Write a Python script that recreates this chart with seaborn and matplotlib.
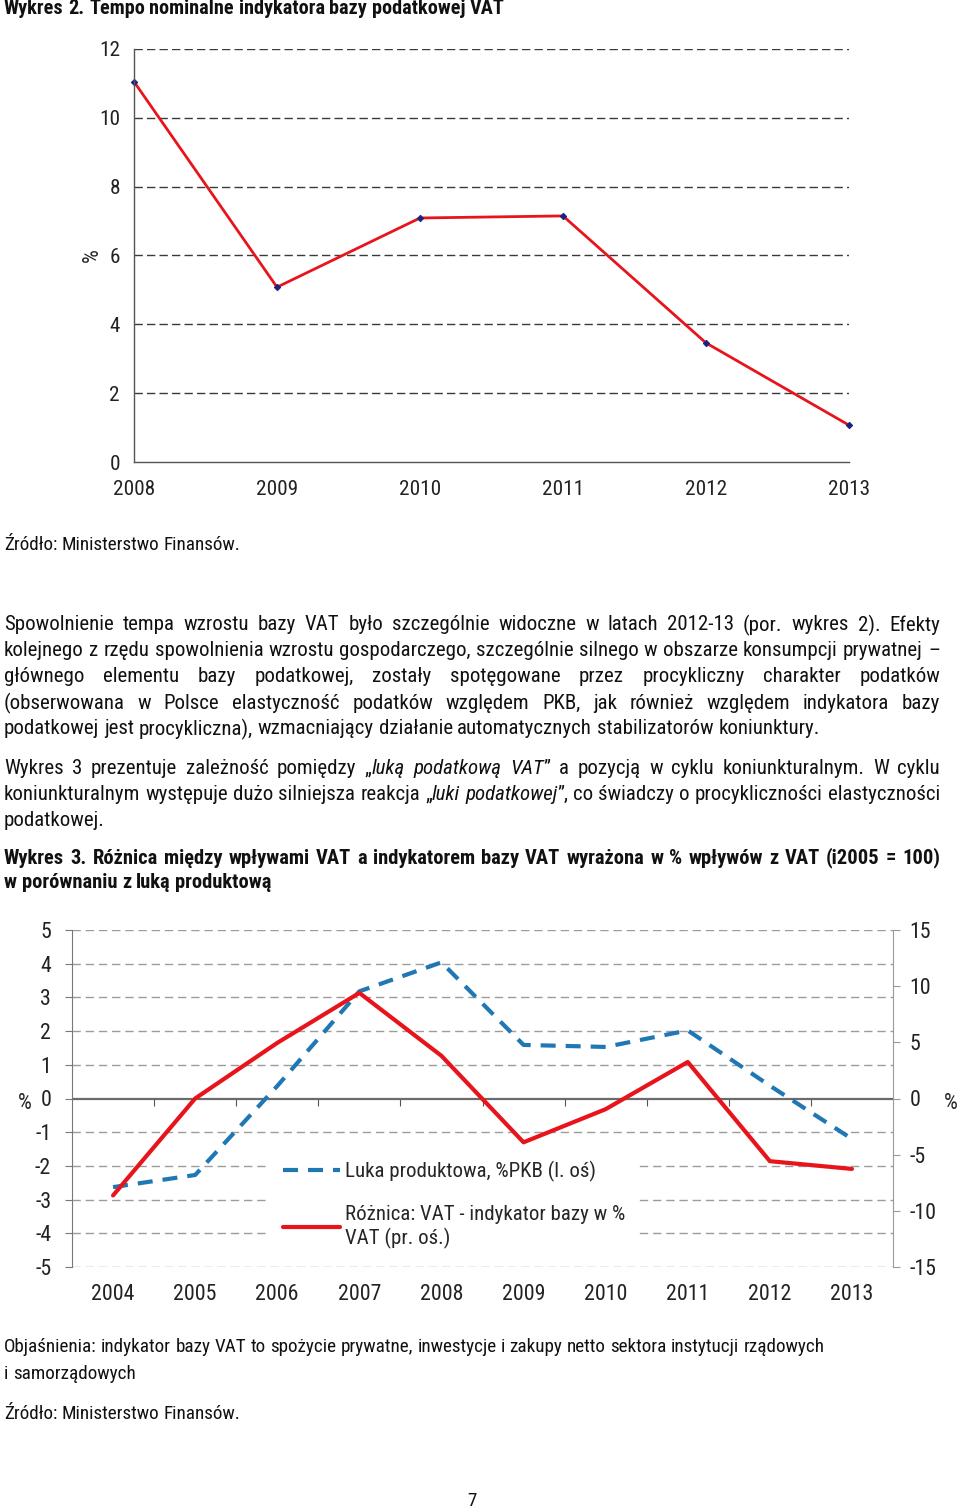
import seaborn as sns
import matplotlib as mpl
import matplotlib.pyplot as plt
from matplotlib import font_manager
from matplotlib.lines import Line2D

# Wykres 2 - tempo nominalne indykatora bazy VAT (%)
years_base = [2008, 2009, 2010, 2011, 2012, 2013]
base_growth = [11.05, 5.08, 7.09, 7.15, 3.46, 1.07]

# Wykres 3 - luka produktowa (l. os) i roznica VAT - indykator (pr. os)
years_gap = [2004, 2005, 2006, 2007, 2008, 2009, 2010, 2011, 2012, 2013]
output_gap = [-2.63, -2.27, 0.37, 3.18, 4.04, 1.59, 1.53, 2.02, 0.38, -1.20]
vat_diff = [-8.63, 0.0, 4.95, 9.40, 3.80, -3.90, -0.95, 3.25, -5.58, -6.27]

left_ticks = [-5, -4, -3, -2, -1, 0, 1, 2, 3, 4, 5]
right_ticks = [-15, -10, -5, 0, 5, 10, 15]

W, H = 960, 1511
RED = '#e8141c'
BLUE = '#1f77b4'
REF_LINE = 'podatkowej jest procykliczna), wzmacniający działanie automatycznych stabilizatorów koniunktury.'


def pick_font():
    fonts = font_manager.fontManager.ttflist
    names = {f.name for f in fonts}
    for fam in ['Liberation Sans Narrow', 'Arial Narrow', 'Roboto Condensed', 'Noto Sans Condensed']:
        if fam in names:
            return fam, 'normal'
    for fam in ['DejaVu Sans', 'Noto Sans', 'Roboto', 'Open Sans']:
        if any(f.name == fam and f.stretch == 'condensed' and f.weight in (400, 'normal', 'regular')
               for f in fonts):
            return fam, 'condensed'
    return 'Liberation Sans', 'normal'


def main():
    sns.set_style('white')
    fam, stretch = pick_font()
    mpl.rcParams['font.family'] = [fam, 'Liberation Sans', 'DejaVu Sans']
    mpl.rcParams['font.stretch'] = stretch
    mpl.rcParams['axes.unicode_minus'] = False
    mpl.rcParams['figure.dpi'] = 100

    fig = plt.figure(figsize=(W / 100, H / 100), dpi=100)
    fig.patch.set_facecolor('white')
    renderer = fig.canvas.get_renderer()

    probe = fig.text(0, 0, REF_LINE, fontsize=10)
    body = 10 * 812 / probe.get_window_extent(renderer).width
    probe.remove()

    plot_base(fig, body)
    plot_gap(fig, body)
    write_text(fig, renderer, body)

    fig.savefig('out.png', dpi=100, facecolor='white')


def plot_base(fig, body):
    ax = fig.add_axes([134 / W, 1 - 462 / H, 715 / W, 413 / H])
    sns.lineplot(x=years_base, y=base_growth, ax=ax, color=RED, linewidth=2.0,
                 marker='D', markersize=3.2, markerfacecolor='#1a237e',
                 markeredgecolor='#1a237e', clip_on=False)
    ax.set_xlim(2008, 2013)
    ax.set_ylim(0, 12)
    ax.set_yticks(range(0, 13, 2))
    ax.set_xticks(years_base)
    for v in range(2, 13, 2):
        ax.axhline(v, color='#3a3a3a', linewidth=1.0, dashes=(6, 3), zorder=0)
    for s in ['top', 'right']:
        ax.spines[s].set_visible(False)
    for s in ['left', 'bottom']:
        ax.spines[s].set_color('#555555')
        ax.spines[s].set_linewidth(1.0)
    ax.tick_params(axis='both', direction='out', length=5, width=1, color='#555555',
                   labelsize=body * 1.02, labelcolor='#222222')
    ax.tick_params(axis='y', pad=5)
    ax.tick_params(axis='x', pad=8)
    ax.set_xlabel('')
    ax.set_ylabel('%', fontsize=body * 1.05)
    ax.yaxis.set_label_coords(-0.043, 0.5)
    ax.grid(False)


def plot_gap(fig, body):
    ax = fig.add_axes([72 / W, 1 - 1267 / H, 821 / W, 337 / H])
    ax2 = ax.twinx()

    sns.lineplot(x=years_gap, y=output_gap, ax=ax, color=BLUE, linewidth=3.0,
                 linestyle='--', zorder=3)
    ax.lines[-1].set_dashes([3.6, 2.4])
    sns.lineplot(x=years_gap, y=vat_diff, ax=ax2, color=RED, linewidth=3.0, zorder=3)

    ax.set_xlim(2003.5, 2013.5)
    ax.set_ylim(-5, 5)
    ax2.set_ylim(-15, 15)
    ax.set_yticks(left_ticks)
    ax2.set_yticks(right_ticks)
    ax.set_xticks(years_gap)

    for v in left_ticks:
        if v == 0:
            ax.axhline(0, color='#6b6b6b', linewidth=1.6, zorder=1)
        else:
            ax.axhline(v, color='#9c9c9c', linewidth=1.0, dashes=(6, 3.5), zorder=0)

    for a in (ax, ax2):
        for s in ['top', 'bottom']:
            a.spines[s].set_visible(False)
        a.spines['left'].set_visible(a is ax)
        a.spines['right'].set_visible(a is ax2)
        a.set_xlabel('')
        a.set_ylabel('')
        a.grid(False)
    ax.spines['left'].set_color('#777777')
    ax2.spines['right'].set_color('#9a9a9a')

    size = body * 1.05
    ax.tick_params(axis='y', direction='out', length=5, color='#777777',
                   labelsize=size, labelcolor='#222222', pad=10)
    ax2.tick_params(axis='y', direction='out', length=5, color='#9a9a9a',
                    labelsize=size, labelcolor='#222222', pad=7)
    ax.tick_params(axis='x', length=0, labelsize=size, labelcolor='#222222', pad=12)

    # category ticks sitting on the zero line
    sec = ax.secondary_xaxis(0.5)
    sec.xaxis.set_ticks_position('bottom')
    sec.set_xticks([y + 0.5 for y in years_gap[:-1]], labels=[''] * 9)
    sec.tick_params(axis='x', which='both', direction='out', length=5, color='#555555',
                    labelbottom=False, labeltop=False)
    for s in sec.spines.values():
        s.set_visible(False)

    ax.text(-0.057, 0.485, '%', transform=ax.transAxes, fontsize=size, ha='center', va='center')
    ax2.text(1.07, 0.485, '%', transform=ax2.transAxes, fontsize=size, ha='center', va='center')

    handles = [
        Line2D([], [], color=BLUE, linewidth=3.0, dashes=[3.6, 2.4]),
        Line2D([], [], color=RED, linewidth=3.0),
    ]
    labels = ['Luka produktowa, %PKB (l. oś)', 'Różnica: VAT - indykator bazy w %\nVAT (pr. oś.)']
    leg = ax2.legend(handles, labels, loc='upper left', bbox_to_anchor=(0.229, 0.383),
                     frameon=True, fancybox=False, fontsize=body, handlelength=2.75,
                     handletextpad=0.2, labelspacing=1.12, borderpad=0.6)
    leg.get_frame().set_facecolor('white')
    leg.get_frame().set_edgecolor('white')
    leg.get_frame().set_alpha(1.0)
    leg.set_zorder(10)


def put_line(fig, renderer, y, segments, size, justify=False, x0=4, x1=940):
    words = []
    for text, style in segments:
        parts = text.split(' ')
        for i, p in enumerate(parts):
            if i > 0 or not words:
                words.append([])
            if p:
                words[-1].append((p, style))
    words = [w for w in words if w]

    def make(s, style):
        return fig.text(0, 1 - y / H, s, fontsize=size, va='center', ha='left',
                        fontweight='bold' if 'b' in style else 'normal',
                        fontstyle='italic' if 'i' in style else 'normal',
                        color='#111111')

    probe_a = make('a a', words[0][0][1])
    probe_b = make('aa', words[0][0][1])
    space = (probe_a.get_window_extent(renderer).width
             - probe_b.get_window_extent(renderer).width)
    probe_a.remove()
    probe_b.remove()

    placed = []
    total = 0
    for w in words:
        pieces = []
        for p, style in w:
            t = make(p, style)
            pw = t.get_window_extent(renderer).width
            pieces.append((t, pw))
        ww = sum(pw for _, pw in pieces)
        placed.append((pieces, ww))
        total += ww

    gap = space
    if justify and len(placed) > 1:
        gap = (x1 - x0 - total) / (len(placed) - 1)

    x = x0
    for pieces, ww in placed:
        px = x
        for t, pw in pieces:
            t.set_x(px / W)
            px += pw
        x += ww + gap


def write_text(fig, renderer, body):
    n = ''
    note = body * 0.915
    put_line(fig, renderer, 9, [('Wykres 2. Tempo nominalne indykatora bazy podatkowej VAT', 'b')], body * 0.97)
    put_line(fig, renderer, 545, [('Źródło: Ministerstwo Finansów.', n)], note)

    put_line(fig, renderer, 625, [('Spowolnienie tempa wzrostu bazy VAT było szczególnie widoczne w latach 2012-13 (por. wykres 2). Efekty', n)], body, True)
    put_line(fig, renderer, 651, [('kolejnego z rzędu spowolnienia wzrostu gospodarczego, szczególnie silnego w obszarze konsumpcji prywatnej –', n)], body, True)
    put_line(fig, renderer, 677, [('głównego elementu bazy podatkowej, zostały spotęgowane przez procykliczny charakter podatków', n)], body, True)
    put_line(fig, renderer, 703, [('(obserwowana w Polsce elastyczność podatków względem PKB, jak również względem indykatora bazy', n)], body, True)
    put_line(fig, renderer, 729, [(REF_LINE, n)], body)

    put_line(fig, renderer, 768, [('Wykres 3 prezentuje zależność pomiędzy „', n), ('luką podatkową VAT', 'i'),
                                  ('” a pozycją w cyklu koniunkturalnym. W cyklu', n)], body, True)
    put_line(fig, renderer, 794, [('koniunkturalnym występuje dużo silniejsza reakcja „', n), ('luki podatkowej', 'i'),
                                  ('”, co świadczy o procykliczności elastyczności', n)], body, True)
    put_line(fig, renderer, 820, [('podatkowej.', n)], body)

    put_line(fig, renderer, 858, [('Wykres 3. Różnica między wpływami VAT a indykatorem bazy VAT wyrażona w % wpływów z VAT (i2005 = 100)', 'b')], body * 0.98, True)
    put_line(fig, renderer, 883, [('w porównaniu z luką produktową', 'b')], body * 0.98)

    put_line(fig, renderer, 1347, [('Objaśnienia: indykator bazy VAT to spożycie prywatne, inwestycje i zakupy netto sektora instytucji rządowych', n)], note)
    put_line(fig, renderer, 1374, [('i samorządowych', n)], note)
    put_line(fig, renderer, 1414, [('Źródło: Ministerstwo Finansów.', n)], note)
    put_line(fig, renderer, 1501, [('7', n)], note, x0=467)


if __name__ == '__main__':
    main()
